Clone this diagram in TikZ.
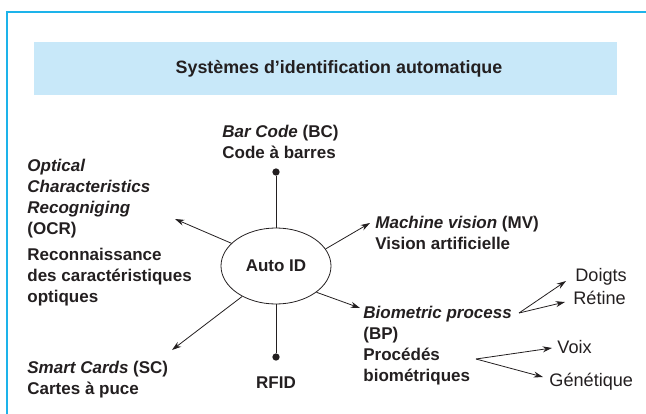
\documentclass[tikz,border=0pt]{standalone}
\usepackage{fontspec}
\setmainfont{Liberation Sans}
\usetikzlibrary{arrows.meta,shapes.geometric}
\definecolor{framecyan}{HTML}{1DB3EA}
\definecolor{titlebg}{HTML}{C8E8F9}
\definecolor{inkgray}{HTML}{231F20}
\tikzset{
  lbl/.style={inner sep=0pt, align=left, anchor=north west, font=\bfseries\fontsize{12.75}{15.9}\selectfont},
  leaf/.style={inner sep=0pt, anchor=base west, font=\fontsize{13.6}{16}\selectfont},
  arr/.style={-{Stealth[length=7pt,width=4.5pt]}},
  dot/.style={circle, fill=inkgray, inner sep=0pt, minimum size=5.5pt},
}

\begin{document}
\begin{tikzpicture}[x=0.75pt, y=-0.75pt, line width=0.6pt, color=inkgray]
  \useasboundingbox (0,0) rectangle (646,414);

  % Frame
  \draw[framecyan, line width=1.2pt] (7,414) -- (7,12) -- (646,12);

  % Title box
  \fill[titlebg] (34,42) rectangle (617,95);
  \node[font=\bfseries\fontsize{13.4}{15}\selectfont, anchor=base] (title) at (339,73) {Systèmes d’identification automatique};

  % Auto ID centre
  \node[ellipse, draw, minimum width=82.5pt, minimum height=57pt, inner sep=0pt,
        font=\bfseries\fontsize{12.75}{15}\selectfont] (autoid) at (276,266) {Auto ID};

  % Branches
  \node[lbl] (bc) at (222,124.6) {\textit{Bar Code} (BC)\\Code à barres};
  \node[lbl] (ocr) at (27,158.6) {\textit{Optical}\\\textit{Characteristics}\\\textit{Recogniging}\\(OCR)\\[3pt]Reconnaissance\\des caractéristiques\\optiques};
  \node[lbl] (mv) at (375,215.6) {\textit{Machine vision} (MV)\\Vision artificielle};
  \node[lbl] (bp) at (363,305.6) {\textit{Biometric process}\\(BP)\\Procédés\\biométriques};
  \node[lbl] (sc) at (27,360.6) {\textit{Smart Cards} (SC)\\Cartes à puce};
  \node[font=\bfseries\fontsize{12.75}{15}\selectfont, anchor=base] (rfid) at (276,388) {RFID};

  % Bar code and RFID
  \node[dot] (bcdot) at (276,172) {};
  \node[dot] (rfiddot) at (276,357) {};
  \draw (bcdot) -- (autoid);
  \draw (rfiddot) -- (autoid);

  % Arrows out of Auto ID
  \coordinate (ocrtip) at (175,219);
  \coordinate (sctip) at (172,350);
  \coordinate (mvtip) at (370,223);
  \coordinate (bptip) at (360,308);
  \draw[arr] (autoid.153) -- (ocrtip);
  \draw[arr] (autoid.222) -- (sctip);
  \draw[arr] (autoid.19) -- (mvtip);
  \draw[arr] (autoid.327) -- (bptip);

  % Biometric leaves
  \node[leaf] (doigts) at (575,281) {Doigts};
  \node[leaf] (retine) at (573,304) {Rétine};
  \node[leaf] (voix) at (557,353) {Voix};
  \node[leaf] (genetique) at (549,386) {Génétique};

  \coordinate (bpfork) at (519,313);
  \coordinate (pbfork) at (476,359);
  \coordinate (doigtstip) at (566,281);
  \coordinate (retinetip) at (565,302);
  \coordinate (voixtip) at (552,348);
  \coordinate (genetiquetip) at (543,377);
  \draw[arr] (bpfork) -- (doigtstip);
  \draw[arr] (bpfork) -- (retinetip);
  \draw[arr] (pbfork) -- (voixtip);
  \draw[arr] (pbfork) -- (genetiquetip);
\end{tikzpicture}
\end{document}
